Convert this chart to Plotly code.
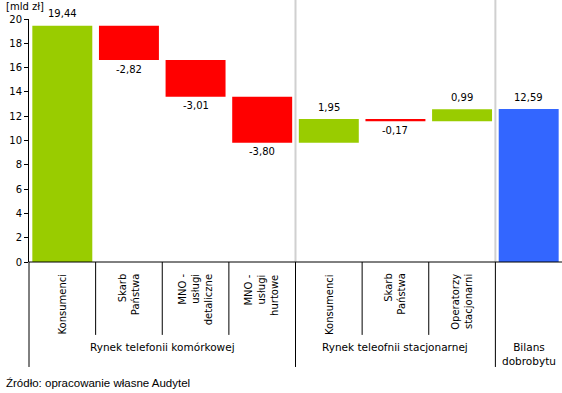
import plotly.graph_objects as go

# ---- data ----
categories = ["Konsumenci", "Skarb<br>Państwa", "MNO -<br>usługi<br>detaliczne", "MNO -<br>usługi<br>hurtowe",
              "Konsumenci", "Skarb<br>Państwa", "Operatorzy<br>stacjonarni", ""]
values = [19.44, -2.82, -3.01, -3.80, 1.95, -0.17, 0.99, 12.59]
measures = ["relative", "relative", "relative", "relative", "relative", "relative", "relative", "total"]
groups = ["Rynek telefonii komórkowej", "Rynek teleofnii stacjonarnej", "Bilans<br>dobrobytu"]
group_spans = [(0, 4), (4, 7), (7, 8)]
y_ticks = list(range(0, 21, 2))

GREEN = "#99CC00"
RED = "#FF0000"
BLUE = "#3366FF"
FONT = "DejaVu Sans"

# waterfall geometry from data
bases, heights, colors = [], [], []
running = 0.0
for v, m in zip(values, measures):
    if m == "total":
        bases.append(0.0)
        heights.append(v)
        colors.append(BLUE)
        running = v
    else:
        if v >= 0:
            bases.append(running)
            heights.append(v)
            colors.append(GREEN)
        else:
            bases.append(running + v)
            heights.append(-v)
            colors.append(RED)
        running += v

xs = list(range(len(values)))

fig = go.Figure()
fig.add_trace(go.Bar(x=xs, y=heights, base=bases, marker=dict(color=colors, line=dict(width=0)),
                     width=0.9, hoverinfo="skip", showlegend=False))

annotations = []
# value labels
for i, (v, b, h) in enumerate(zip(values, bases, heights)):
    txt = f"{v:.2f}".replace(".", ",")
    if v >= 0:
        annotations.append(dict(x=i, y=b + h, xref="x", yref="y", text=txt, showarrow=False,
                                yanchor="middle", yshift=12, font=dict(family=FONT, size=10, color="black")))
    else:
        annotations.append(dict(x=i, y=b, xref="x", yref="y", text=txt, showarrow=False,
                                yanchor="middle", yshift=-9, font=dict(family=FONT, size=10, color="black")))

# category labels (rotated)
for i, c in enumerate(categories):
    if c:
        annotations.append(dict(x=i, y=-0.04, xref="x", yref="paper", text=c, showarrow=False,
                                textangle=-90, yanchor="top", xanchor="center", align="right",
                                font=dict(family=FONT, size=10, color="black")))

# group labels
n = len(values)
for g, (a, b) in zip(groups, group_spans):
    annotations.append(dict(x=(a + b) / 2 / n, y=-0.35 if "<br>" not in g else -0.38,
                            xref="x domain", yref="paper", text=g, showarrow=False,
                            yanchor="middle", xanchor="center", align="center",
                            font=dict(family=FONT, size=10.5, color="black")))

annotations.append(dict(x=-0.047, y=1.05, xref="paper", yref="paper", text="[mld zł]", showarrow=False,
                        xanchor="left", yanchor="middle", font=dict(family=FONT, size=10, color="black")))
annotations.append(dict(x=-0.047, y=-0.498, xref="paper", yref="paper",
                        text="Źródło: opracowanie własne Audytel", showarrow=False,
                        xanchor="left", yanchor="middle", font=dict(family="Liberation Sans", size=11.5, color="black")))

shapes = []
# gray separators inside plot
for (a, b) in group_spans[:-1]:
    shapes.append(dict(type="line", xref="x domain", yref="paper", x0=b / n, x1=b / n, y0=0, y1=1.08,
                       line=dict(color="#D0D0D0", width=2), layer="below"))
# boundary lines below axis
group_edges = {0} | {b for (_, b) in group_spans[:-1]}
for k in range(n):
    y1 = -0.432 if k in group_edges else -0.30
    shapes.append(dict(type="line", xref="x domain", yref="paper", x0=k / n, x1=k / n, y0=0, y1=y1,
                       line=dict(color="black", width=1)))
# zero axis line
shapes.append(dict(type="line", xref="x domain", yref="paper", x0=0, x1=1, y0=0, y1=0,
                   line=dict(color="black", width=1)))

fig.update_layout(
    width=562, height=393,
    margin=dict(l=29, r=0, t=19, b=131),
    plot_bgcolor="white", paper_bgcolor="white",
    bargap=0.1,
    xaxis=dict(range=[-0.5, n - 0.5], showticklabels=False, showgrid=False, zeroline=False,
               showline=False, ticks="", fixedrange=True),
    yaxis=dict(range=[0, 20], tickvals=y_ticks, showgrid=False, zeroline=False, showline=True,
               linecolor="black", linewidth=1, ticks="outside", ticklen=4, tickcolor="black",
               tickfont=dict(family=FONT, size=10, color="black"), fixedrange=True),
    annotations=annotations,
    shapes=shapes,
)

fig.write_html("out.html", config={"displayModeBar": False},
               post_script="document.body.style.margin='0';document.body.style.overflow='hidden';")
